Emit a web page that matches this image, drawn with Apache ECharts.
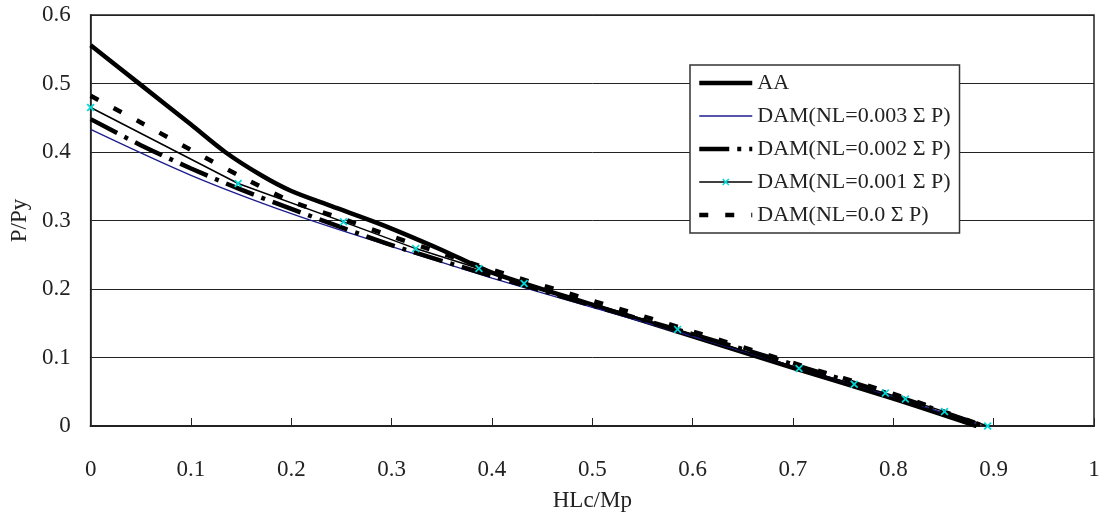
<!DOCTYPE html>
<html>
<head>
<meta charset="utf-8">
<script src="https://cdn.jsdelivr.net/npm/echarts@6/dist/echarts.min.js"></script>
<style>
  html, body { margin: 0; padding: 0; background: #fff; }
  #main { width: 1104px; height: 519px; }
</style>
</head>
<body>
<div id="main"></div>
<script>
// values
var seriesNames = ['AA', 'DAM(NL=0.003 Σ P)', 'DAM(NL=0.002 Σ P)', 'DAM(NL=0.001 Σ P)', 'DAM(NL=0.0 Σ P)'];

var aaX = [0, 0.05, 0.1, 0.134, 0.17, 0.2, 0.24, 0.29, 0.35, 0.4, 0.5, 0.6, 0.7, 0.8, 0.883];
var aaY = [0.556, 0.498, 0.44, 0.4, 0.366, 0.343, 0.321, 0.294, 0.257, 0.224, 0.177, 0.131, 0.085, 0.04, 0];

var nl003X = [0, 0.1, 0.2, 0.3, 0.4, 0.5, 0.6, 0.7, 0.8, 0.885];
var nl003Y = [0.433, 0.366, 0.31, 0.262, 0.216, 0.173, 0.131, 0.087, 0.043, 0.002];

var nl002X = [0, 0.05, 0.1, 0.15, 0.2, 0.25, 0.3, 0.4, 0.5, 0.6, 0.7, 0.8, 0.89];
var nl002Y = [0.448, 0.41, 0.376, 0.345, 0.317, 0.29, 0.264, 0.219, 0.176, 0.134, 0.09, 0.045, 0];

var nl001X = [0, 0.147, 0.252, 0.324, 0.387, 0.432, 0.585, 0.706, 0.761, 0.792, 0.812, 0.851, 0.894];
var nl001Y = [0.465, 0.354, 0.298, 0.259, 0.23, 0.208, 0.141, 0.084, 0.061, 0.048, 0.0395, 0.021, 0];

var nl000X = [0, 0.05, 0.1, 0.15, 0.2, 0.25, 0.3, 0.35, 0.4, 0.5, 0.6, 0.7, 0.8, 0.89];
var nl000Y = [0.482, 0.443, 0.403, 0.364, 0.328, 0.303, 0.277, 0.252, 0.228, 0.183, 0.138, 0.092, 0.047, 0];

function pairs(xs, ys) {
  var out = [];
  for (var i = 0; i < xs.length; i++) out.push([xs[i], ys[i]]);
  return out;
}

var serif = '"Liberation Serif", "Times New Roman", serif';
var crossMark = 'path://M0,1.5L1.5,0L5,3.5L8.5,0L10,1.5L6.5,5L10,8.5L8.5,10L5,6.5L1.5,10L0,8.5L3.5,5Z';

// line looks shared by plot and legend
var styles = [
  { color: '#000', width: 4.5, type: 'solid' },
  { color: '#1c1c8c', width: 1.3, type: 'solid' },
  { color: '#000', width: 4.5, type: [30, 8, 4, 8] },
  { color: '#000', width: 1.5, type: 'solid' },
  { color: '#000', width: 4.5, type: [9, 17] }
];

var legendData = seriesNames.map(function (n, i) {
  return {
    name: n,
    lineStyle: { color: styles[i].color, width: styles[i].width, type: styles[i].type },
    itemStyle: i === 3 ? { color: '#00d8d8', opacity: 1 } : { opacity: 0 }
  };
});

var myChart = echarts.init(document.getElementById('main'), null, { renderer: 'canvas' });
var option = {
  animation: false,
  backgroundColor: '#fff',
  textStyle: { fontFamily: serif },
  grid: {
    show: true,
    left: 88,
    right: 10,
    top: 15,
    bottom: 93,
    borderColor: '#222',
    borderWidth: 1.5,
    containLabel: false
  },
  legend: {
    orient: 'vertical',
    left: 690,
    top: 65,
    padding: [7, 9, 7, 7],
    itemWidth: 53,
    itemHeight: 9,
    itemGap: 11,
    backgroundColor: '#fff',
    borderColor: '#333',
    borderWidth: 1.5,
    borderRadius: 0,
    textStyle: { fontFamily: serif, fontSize: 22, color: '#222' },
    data: legendData
  },
  xAxis: {
    type: 'value',
    min: 0,
    max: 1,
    interval: 0.1,
    name: 'HLc/Mp',
    nameLocation: 'middle',
    nameGap: 63,
    nameTextStyle: { fontFamily: serif, fontSize: 23, color: '#222' },
    axisLine: { show: true, onZero: false, lineStyle: { color: '#222', width: 2 } },
    axisTick: { show: true, inside: true, length: 8, lineStyle: { color: '#222', width: 1 } },
    axisLabel: { margin: 32, fontFamily: serif, fontSize: 23, color: '#222' },
    splitLine: { show: false }
  },
  yAxis: {
    type: 'value',
    min: 0,
    max: 0.6,
    interval: 0.1,
    name: 'P/Py',
    nameLocation: 'middle',
    nameGap: 58,
    nameTextStyle: { fontFamily: serif, fontSize: 23, color: '#222' },
    axisLine: { show: true, lineStyle: { color: '#222', width: 1.5 } },
    axisTick: { show: false },
    axisLabel: { margin: 20, fontFamily: serif, fontSize: 23, color: '#222' },
    splitLine: { show: true, lineStyle: { color: '#222', width: 1 } }
  },
  series: [
    {
      name: seriesNames[0],
      type: 'line',
      smooth: 0.3,
      symbol: 'none',
      lineStyle: styles[0],
      itemStyle: { color: '#000' },
      data: pairs(aaX, aaY)
    },
    {
      name: seriesNames[1],
      type: 'line',
      smooth: 0.3,
      symbol: 'none',
      lineStyle: styles[1],
      itemStyle: { color: '#1c1c8c' },
      data: pairs(nl003X, nl003Y)
    },
    {
      name: seriesNames[2],
      type: 'line',
      smooth: 0.3,
      symbol: 'none',
      lineStyle: styles[2],
      itemStyle: { color: '#000' },
      data: pairs(nl002X, nl002Y)
    },
    {
      name: seriesNames[3],
      type: 'line',
      smooth: false,
      symbol: crossMark,
      symbolSize: 8,
      showSymbol: true,
      lineStyle: styles[3],
      itemStyle: { color: '#00d8d8' },
      z: 3,
      data: pairs(nl001X, nl001Y)
    },
    {
      name: seriesNames[4],
      type: 'line',
      smooth: 0.3,
      symbol: 'none',
      lineStyle: styles[4],
      itemStyle: { color: '#000' },
      data: pairs(nl000X, nl000Y)
    }
  ]
};
myChart.setOption(option);
</script>
</body>
</html>
